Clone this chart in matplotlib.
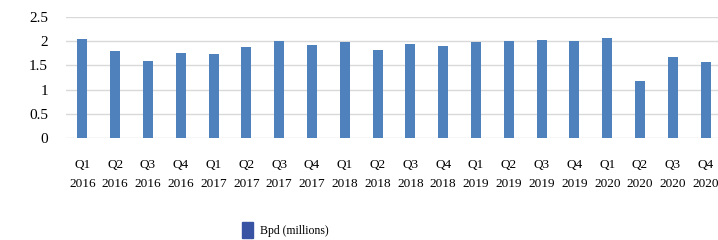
import matplotlib.pyplot as plt
import numpy as np
from matplotlib.patches import Patch

quarters = ["Q1", "Q2", "Q3", "Q4"] * 5
years = ["2016"] * 4 + ["2017"] * 4 + ["2018"] * 4 + ["2019"] * 4 + ["2020"] * 4
bpd = [2.05, 1.80, 1.60, 1.76, 1.74, 1.87, 2.00, 1.93,
       1.98, 1.82, 1.94, 1.91, 1.98, 2.00, 2.02, 2.00,
       2.07, 1.18, 1.67, 1.56]

plt.rcParams['font.family'] = ['Liberation Serif', 'DejaVu Serif']

fig = plt.figure(figsize=(7.18, 2.4), dpi=100)
ax = fig.add_axes([66 / 718, 102 / 240, 656 / 718, 121 / 240])

x = np.arange(len(bpd))
ax.bar(x, bpd, width=0.3, color="#4f81bd", zorder=3)

ax.set_xlim(-0.5, len(bpd) - 0.5)
ax.set_ylim(0, 2.5)
ax.set_yticks([0, 0.5, 1, 1.5, 2, 2.5])
ax.set_yticklabels(["0", "0.5", "1", "1.5", "2", "2.5"], fontsize=11)
ax.set_xticks(x)
ax.set_xticklabels([q + "\n" + y for q, y in zip(quarters, years)],
                   fontsize=9.5, linespacing=1.75)
ax.tick_params(axis="both", length=0)
ax.tick_params(axis="y", pad=13)
ax.tick_params(axis="x", pad=15)
ax.grid(axis="y", color="#d9d9d9", linewidth=1, zorder=0)
for s in ax.spines.values():
    s.set_visible(False)

fig.legend(handles=[Patch(color="#3953a4", label="Bpd (millions)")],
           loc="center", bbox_to_anchor=(0.397, 0.042), frameon=False,
           fontsize=8.5, handlelength=0.95, handleheight=1.6, handletextpad=0.6)

fig.savefig("out.png", dpi=100)
